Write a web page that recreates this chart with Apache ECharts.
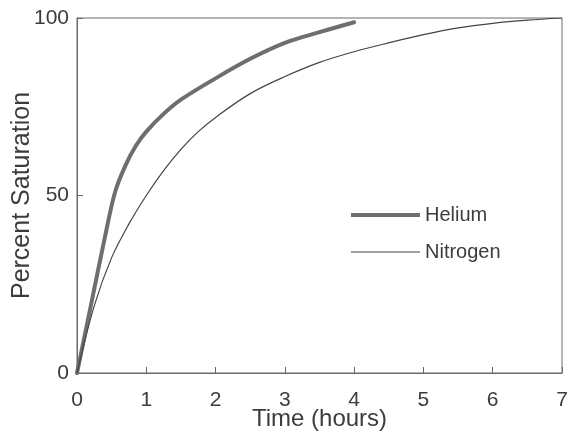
<!DOCTYPE html>
<html>
<head>
<meta charset="utf-8">
<script src="https://cdn.jsdelivr.net/npm/echarts@6/dist/echarts.min.js"></script>
<style>
  html, body { margin: 0; padding: 0; background: #fff; }
  #chart { width: 570px; height: 432px; }
</style>
</head>
<body>
<div id="chart"></div>
<script>
// values (time in hours, percent saturation)
const heliumTime = [0, 0.2, 0.4, 0.55, 0.7, 0.85, 1.0, 1.25, 1.5, 2.0, 2.5, 3.0, 3.5, 4.0]
const heliumSat = [0, 19, 38, 51, 58.5, 64, 68, 73, 77, 83, 88.5, 93, 96, 98.8]
const nitrogenTime = [0, 0.25, 0.5, 0.75, 1.0, 1.25, 1.5, 1.75, 2.0, 2.5, 3.0, 3.5, 4.0, 4.5, 5.0, 5.5, 6.0, 6.5, 7.0]
const nitrogenSat = [0, 19, 32.5, 42, 50, 57, 63, 68, 72, 78.7, 83.5, 87.5, 90.5, 93, 95.3, 97.2, 98.5, 99.4, 100]

const font = 'Liberation Sans, Arial, sans-serif'
const axisColor = '#6a6a6a'
const textColor = '#3c3c3c'
const heliumColor = '#6e6e6e'
const nitrogenColor = '#444'

const chart = echarts.init(document.getElementById('chart'))

chart.setOption({
  animation: false,
  backgroundColor: '#fff',
  textStyle: { fontFamily: font },
  grid: {
    left: 77,
    right: 8,
    top: 18,
    bottom: 59,
    outerBoundsMode: 'none',
    containLabel: false,
    show: true,
    borderColor: axisColor,
    borderWidth: 1
  },
  // one legend per series so each icon gets its own line thickness
  legend: [
    {
      left: 346,
      top: 200,
      icon: 'rect',
      itemWidth: 69,
      itemHeight: 4,
      textStyle: { fontSize: 20, color: textColor, fontFamily: font },
      data: [{ name: 'Helium', itemStyle: { color: heliumColor } }]
    },
    {
      left: 346,
      top: 237,
      icon: 'rect',
      itemWidth: 69,
      itemHeight: 1,
      textStyle: { fontSize: 20, color: textColor, fontFamily: font },
      data: [{ name: 'Nitrogen', itemStyle: { color: nitrogenColor } }]
    }
  ],
  xAxis: {
    type: 'value',
    min: 0,
    max: 7,
    interval: 1,
    name: 'Time (hours)',
    nameLocation: 'middle',
    nameGap: 34,
    nameMoveOverlap: false,
    nameTextStyle: { fontSize: 24, color: textColor },
    axisLine: { lineStyle: { color: axisColor } },
    axisTick: { inside: true, length: 6, lineStyle: { color: axisColor } },
    axisLabel: { fontSize: 21, color: textColor, margin: 17 },
    splitLine: { show: false }
  },
  yAxis: {
    type: 'value',
    min: 0,
    max: 100,
    interval: 50,
    name: 'Percent Saturation',
    nameLocation: 'middle',
    nameGap: 42,
    nameMoveOverlap: false,
    nameTextStyle: { fontSize: 25, color: textColor },
    axisLine: { show: true, lineStyle: { color: axisColor } },
    axisTick: { show: true, inside: true, length: 6, lineStyle: { color: axisColor } },
    axisLabel: { fontSize: 21, color: textColor, margin: 8 },
    splitLine: { show: false }
  },
  series: [
    {
      name: 'Helium',
      type: 'line',
      smooth: 0.35,
      symbol: 'none',
      data: heliumTime.map((t, i) => [t, heliumSat[i]]),
      lineStyle: { color: heliumColor, width: 4, cap: 'round' },
      itemStyle: { color: heliumColor }
    },
    {
      name: 'Nitrogen',
      type: 'line',
      smooth: 0.35,
      symbol: 'none',
      data: nitrogenTime.map((t, i) => [t, nitrogenSat[i]]),
      lineStyle: { color: nitrogenColor, width: 1.2 },
      itemStyle: { color: nitrogenColor }
    }
  ]
})
</script>
</body>
</html>
